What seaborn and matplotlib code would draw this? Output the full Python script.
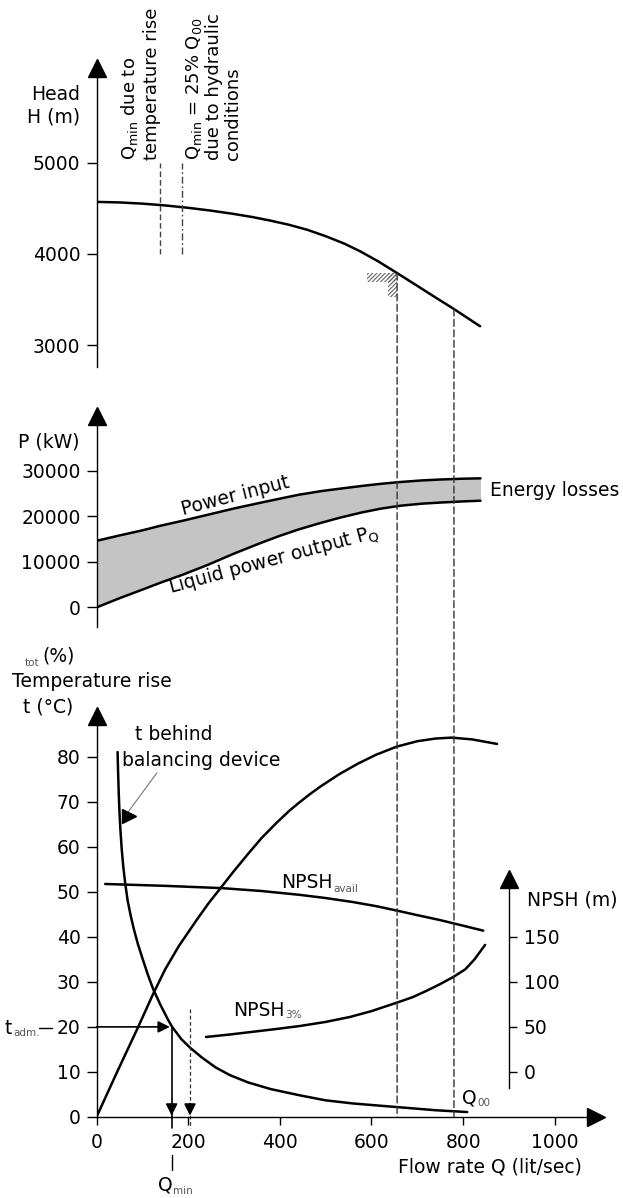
import numpy as np
import matplotlib
matplotlib.use("Agg")
import matplotlib.pyplot as plt
import seaborn as sns
from matplotlib.patches import ConnectionPatch, Rectangle
from matplotlib.lines import Line2D

# ---------------- data ----------------
head_q = [0, 50, 100, 150, 200, 250, 298, 340, 380, 420, 460, 500, 540, 575, 615, 656, 700, 740, 780, 837]
head_h = [4571, 4565, 4552, 4532, 4506, 4475, 4440, 4405, 4365, 4320, 4265, 4195, 4115, 4030,
          3918, 3790, 3650, 3522, 3396, 3207]
head_ticks = [3000, 4000, 5000]

flow_p = [0, 51, 100, 139, 190, 242, 300, 360, 400, 441, 490, 532, 580, 620, 663, 710, 751, 800, 838]
power_in = [14600, 15800, 16900, 17900, 19050, 20300, 21700, 23000, 23850, 24700, 25500, 26050,
            26650, 27100, 27500, 27850, 28050, 28230, 28300]
liquid_out = [0, 2050, 3900, 5400, 7250, 9300, 11800, 14200, 15700, 17100, 18550, 19700,
              20850, 21650, 22300, 22750, 23000, 23250, 23400]
power_ticks = [0, 10000, 20000, 30000]

temp_q = [46, 47, 48.5, 50, 52, 55, 58.5, 62.5, 68, 75, 82, 90, 100, 112, 124, 140, 155, 165, 185,
          204, 230, 260, 291, 330, 380, 444, 500, 560, 620, 680, 740, 809]
temp_t = [81, 77, 72, 68, 64, 59.5, 55.5, 52, 48, 44.5, 41.5, 38.5, 35.3, 31.6, 28.3, 24.8, 21.8,
          20, 17.3, 15.4, 13.2, 11, 9.3, 7.7, 6.2, 4.8, 3.7, 3.0, 2.5, 2.0, 1.5, 1.1]

eff_q = [0, 45, 91, 124, 150, 180, 219, 245, 273, 300, 330, 360, 393, 420, 440, 465, 488, 530,
         570, 610, 655, 700, 740, 775, 820, 874]
eff = [0, 10, 20, 27.4, 32.8, 38.0, 43.8, 47.5, 51.1, 54.6, 58.3, 61.9, 65.3, 67.9, 69.6, 71.6,
       73.3, 76.1, 78.4, 80.4, 82.2, 83.4, 84.0, 84.2, 83.8, 82.8]

npsh_av_q = [19, 150, 273, 360, 444, 500, 560, 610, 656, 700, 750, 800, 844]
npsh_av = [208.6, 206.5, 204, 200.8, 196.5, 193, 188.5, 184, 179, 174, 168.5, 162.3, 156.8]

npsh3_q = [239, 290, 340, 390, 444, 500, 553, 600, 656, 690, 720, 750, 780, 805, 825, 848]
npsh3 = [38.8, 41.5, 44.5, 47.5, 51, 55.5, 61, 67.5, 77, 83, 90, 97.5, 105.8, 114, 125, 141]

temp_ticks = [0, 10, 20, 30, 40, 50, 60, 70, 80]
npsh_ticks = [0, 50, 100, 150]
flow_ticks = [0, 200, 400, 600, 800, 1000]

q_marks = [656, 780]          # dashed verticals (operating points)
qmin_temp_top = 139           # Q_min due to temperature rise (top panel)
qmin_hyd_top = 186            # Q_min = 25% Q_00 (top panel)
q_min = 164                   # Q_min from t_adm
q_hyd = 204                   # hydraulic Q_min (bottom panel)
t_adm = 20

# ---------------- style ----------------
sns.set_style("white")
plt.rcParams['font.family'] = ['DejaVu Sans']
plt.rcParams['mathtext.fontset'] = 'dejavusans'
plt.rcParams['hatch.linewidth'] = 0.8
plt.rcParams['text.color'] = 'black'
plt.rcParams['xtick.color'] = 'black'
plt.rcParams['ytick.color'] = 'black'
plt.rcParams['axes.labelcolor'] = 'black'
FS = 13.5
SFS = 7.5
SUBC = '#555555'

W, H = 623, 1198
fig = plt.figure(figsize=(W / 100, H / 100), dpi=100)
renderer = fig.canvas.get_renderer()


def fx(px):
    return px / W


def fy(py):
    return 1 - py / H


def sub_label(x, y, base, sub, dy=5.5):
    t = fig.text(fx(x), fy(y), base, ha='left', va='center', fontsize=FS)
    bb = t.get_window_extent(renderer=renderer)
    fig.text((bb.x1 + 0.5) / W, fy(y + dy), sub, ha='left', va='center', fontsize=SFS, color=SUBC)


X0, XR = 96.5, 596
XMAX = 1090
ax_h = fig.add_axes([fx(X0), fy(367), (XR - X0) / W, (367 - 67.5) / H])
ax_p = fig.add_axes([fx(X0), fy(626.7), (XR - X0) / W, (626.7 - 416) / H])
ax_t = fig.add_axes([fx(X0), fy(1117), (XR - X0) / W, (1117 - 716) / H])

for ax in (ax_h, ax_p, ax_t):
    ax.set_facecolor('none')
    ax.set_xlim(0, XMAX)
    for s in ('top', 'right'):
        ax.spines[s].set_visible(False)
    for s in ('left', 'bottom'):
        ax.spines[s].set_linewidth(1.0)
        ax.spines[s].set_color('black')
    ax.tick_params(axis='y', direction='out', length=7.2, width=1.0, pad=4.3,
                   labelsize=FS, left=True, color='black', labelcolor='black')
    ax.plot(0, 1, marker='^', ms=13.5, color='black', transform=ax.transAxes, clip_on=False)

for ax in (ax_h, ax_p):
    ax.spines['bottom'].set_visible(False)
    ax.set_xticks([])

# ---------------- top: head ----------------
ax_h.set_ylim(2760, 6045)
ax_h.set_yticks(head_ticks)
sns.lineplot(x=head_q, y=head_h, ax=ax_h, color='black', linewidth=1.8,
             sort=False, estimator=None)
ax_h.vlines(qmin_temp_top, 4000, 5000, colors='#444', linewidth=1.0, linestyles=(0, (4, 2.2)))
ax_h.vlines(qmin_hyd_top, 4000, 5000, colors='#444', linewidth=1.0, linestyles=(0, (5, 2, 1.2, 2)))

# hatched corner at the first operating point
hq = q_marks[0]
hh = float(np.interp(hq, head_q, head_h))
ax_h.add_patch(Rectangle((hq - 65, hh - 103), 65, 103, fill=False, hatch='////////',
                         edgecolor='#666', linewidth=0))
ax_h.add_patch(Rectangle((hq - 19.5, hh - 267), 19.5, 267, fill=False, hatch='////////',
                         edgecolor='#666', linewidth=0))

fig.text(fx(80), fy(106), "Head\nH (m)", ha='right', va='center', fontsize=FS, linespacing=1.2)
fig.text(fx(140), fy(160), "$\\mathregular{Q_{min}}$ due to\ntemperature rise", rotation=90,
         ha='center', va='bottom', multialignment='left', fontsize=13, linespacing=1.15)
fig.text(fx(213), fy(160), "$\\mathregular{Q_{min}}$ = 25% $\\mathregular{Q_{00}}$\ndue to hydraulic\nconditions",
         rotation=90, ha='center', va='bottom', multialignment='left', fontsize=13, linespacing=1.05)

# ---------------- middle: power ----------------
ax_p.set_ylim(-4226, 41975)
ax_p.set_yticks(power_ticks)
ax_p.fill_between(flow_p, liquid_out, power_in, color='#c4c4c4', linewidth=0)
sns.lineplot(x=flow_p, y=power_in, ax=ax_p, color='black', linewidth=1.8, sort=False, estimator=None)
sns.lineplot(x=flow_p, y=liquid_out, ax=ax_p, color='black', linewidth=1.8, sort=False, estimator=None)
ax_p.text(302, 24350, "Power input", rotation=14.5, ha='center', va='center', fontsize=FS)
ax_p.text(388, 10300, "Liquid power output $\\mathregular{P_Q}$", rotation=15, ha='center',
          va='center', fontsize=FS)
fig.text(fx(80), fy(442), "P (kW)", ha='right', va='center', fontsize=FS)
fig.text(fx(490), fy(491), "Energy losses", ha='left', va='center', fontsize=FS)

# ---------------- bottom: temperature / efficiency / NPSH ----------------
ax_t.set_ylim(0, 89)
ax_t.set_yticks(temp_ticks)
ax_t.set_xticks(flow_ticks)
ax_t.tick_params(axis='x', direction='out', length=5.8, width=1.0, pad=6, labelsize=FS,
                 bottom=True, color='black', labelcolor='black')
ax_t.plot(1, 0, marker='>', ms=13.5, color='black', transform=ax_t.transAxes, clip_on=False)

sns.lineplot(x=temp_q, y=temp_t, ax=ax_t, color='black', linewidth=1.8, sort=False, estimator=None)
sns.lineplot(x=eff_q, y=eff, ax=ax_t, color='black', linewidth=1.8, sort=False, estimator=None)

ax_n = ax_t.twinx()
ax_n.set_facecolor('none')
ax_n.set_ylim((0 - 10) * 5, (89 - 10) * 5)
for s in ('top', 'left', 'bottom'):
    ax_n.spines[s].set_visible(False)
ax_n.spines['right'].set_position(('data', 900))
ax_n.spines['right'].set_bounds(-18, 214)
ax_n.spines['right'].set_linewidth(1.0)
ax_n.spines['right'].set_color('black')
ax_n.set_yticks(npsh_ticks)
ax_n.tick_params(axis='y', direction='out', length=5.8, width=1.0, pad=5, labelsize=FS,
                 right=True, color='black', labelcolor='black')
ax_n.plot(900, 214, marker='^', ms=13.5, color='black', clip_on=False)
sns.lineplot(x=npsh_av_q, y=npsh_av, ax=ax_n, color='black', linewidth=1.8, sort=False, estimator=None)
sns.lineplot(x=npsh3_q, y=npsh3, ax=ax_n, color='black', linewidth=1.8, sort=False, estimator=None)
ax_n.set_ylabel('')

# t_adm arrows
ap = dict(arrowstyle='-|>,head_length=0.5,head_width=0.25', color='black', lw=1.2,
          shrinkA=0, shrinkB=0, mutation_scale=14)
ax_t.annotate('', xy=(q_min - 4, t_adm), xytext=(0, t_adm), arrowprops=ap)
ax_t.plot([q_min, q_min], [t_adm, -2.4], color='black', lw=1.2, clip_on=False)
ax_t.annotate('', xy=(q_min, 0.3), xytext=(q_min, 3), arrowprops=ap)
ax_t.plot([q_hyd, q_hyd], [24, -2.4], color='#333', lw=0.9, ls=(0, (3, 2)), clip_on=False)
ax_t.annotate('', xy=(q_hyd, 0.3), xytext=(q_hyd, 3), arrowprops=ap)
ax_t.plot([q_min, q_min], [-8.4, -11.8], color='black', lw=1.0, clip_on=False)

# label arrow for temperature curve
ax_t.plot([132, 69], [76.4, 67.7], color='#777', lw=0.8)
ax_t.plot(71, 66.8, marker='>', ms=10, color='black')

# dashed operating-point lines across panels
for q in q_marks:
    h = float(np.interp(q, head_q, head_h))
    con = ConnectionPatch(xyA=(q, h), coordsA=ax_h.transData, xyB=(q, 0), coordsB=ax_t.transData,
                          color='#333', lw=1.0, linestyle=(0, (5, 2.5)))
    fig.add_artist(con)

# texts bottom
sub_label(281, 883, "NPSH", "avail")
sub_label(233, 1010, "NPSH", "3%")
sub_label(462, 1098, "Q", "00")
sub_label(158, 1185, "Q", "min", dy=6.5)
sub_label(5, 1028, "t", "adm.")
fig.add_artist(Line2D([fx(39), fx(52)], [fy(1028), fy(1028)], color='black', lw=1.0))
fig.text(fx(527), fy(900), "NPSH (m)", ha='left', va='center', fontsize=FS)
fig.text(fx(582), fy(1167), "Flow rate Q (lit/sec)", ha='right', va='center', fontsize=FS)
fig.text(fx(25), fy(663), "tot", ha='left', va='center', fontsize=SFS, color=SUBC)
fig.text(fx(42), fy(656), "(%)", ha='left', va='center', fontsize=FS)
fig.text(fx(12), fy(682), "Temperature rise", ha='left', va='center', fontsize=FS)
fig.text(fx(23), fy(707), "t (°C)", ha='left', va='center', fontsize=FS)
fig.text(fx(135), fy(735), "t behind", ha='left', va='center', fontsize=FS)
fig.text(fx(122), fy(760), "balancing device", ha='left', va='center', fontsize=FS)

for ax in (ax_h, ax_p, ax_t):
    ax.set_xlabel('')
    ax.set_ylabel('')

fig.savefig("out.png", dpi=100, facecolor='white')
